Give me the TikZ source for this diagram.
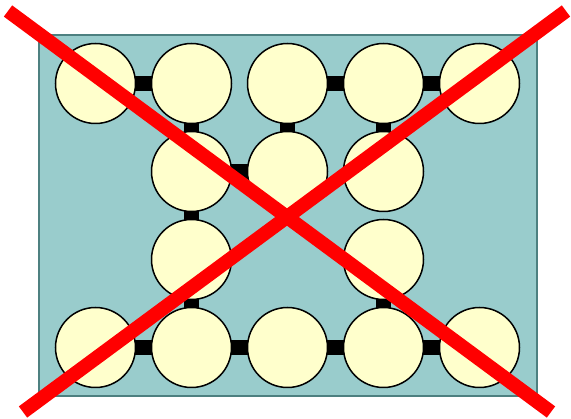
\documentclass[tikz,border=0pt]{standalone}
\usetikzlibrary{backgrounds}
\definecolor{boardfill}{RGB}{153,204,204}
\definecolor{boardline}{RGB}{77,128,128}
\definecolor{beadfill}{RGB}{255,255,204}
\tikzset{
  bead/.style={circle, draw=black, line width=1.5pt, fill=beadfill, minimum size=80pt, inner sep=0pt},
  link/.style={line width=15pt, black},
  cross/.style={line width=14pt, red}
}
\begin{document}
\begin{tikzpicture}[x=1pt,y=-1pt]
  \useasboundingbox (0,0) rectangle (571,419);

  % top row
  \foreach \i/\x in {1/95.5,2/191.5,3/287.5,4/383.5,5/479.5}
    \node[bead] (t\i) at (\x,83.5) {};

  % middle rows
  \node[bead] (m1) at (191.5,171.5) {};
  \node[bead] (m2) at (287.5,171.5) {};
  \node[bead] (m3) at (383.5,171.5) {};
  \node[bead] (r2) at (191.5,259.5) {};
  \node[bead] (r4) at (383.5,259.5) {};

  % bottom row
  \foreach \i/\x in {1/95.5,2/191.5,3/287.5,4/383.5,5/479.5}
    \node[bead] (b\i) at (\x,347.5) {};

  \begin{scope}[on background layer]
    % board
    \draw[line width=1.5pt, draw=boardline, fill=boardfill] (39,35) rectangle (537,396);
    % links
    \draw[link] (t1.center) -- (t2.center);
    \draw[link] (t3.center) -- (t4.center);
    \draw[link] (t4.center) -- (t5.center);
    \draw[link] (t2.center) -- (m1.center);
    \draw[link] (t3.center) -- (m2.center);
    \draw[link] (t4.center) -- (m3.center);
    \draw[link] (m1.center) -- (m2.center);
    \draw[link] (m1.center) -- (r2.center);
    \draw[link] (r2.center) -- (b2.center);
    \draw[link] (r4.center) -- (b4.center);
    \foreach \a/\b in {1/2,2/3,3/4,4/5}
      \draw[link] (b\a.center) -- (b\b.center);
  \end{scope}

  % red cross
  \coordinate (x1) at (8,11);
  \coordinate (x2) at (551,412);
  \coordinate (x3) at (566,11);
  \coordinate (x4) at (23,412);
  \draw[cross] (x1) -- (x2);
  \draw[cross] (x3) -- (x4);
\end{tikzpicture}
\end{document}
